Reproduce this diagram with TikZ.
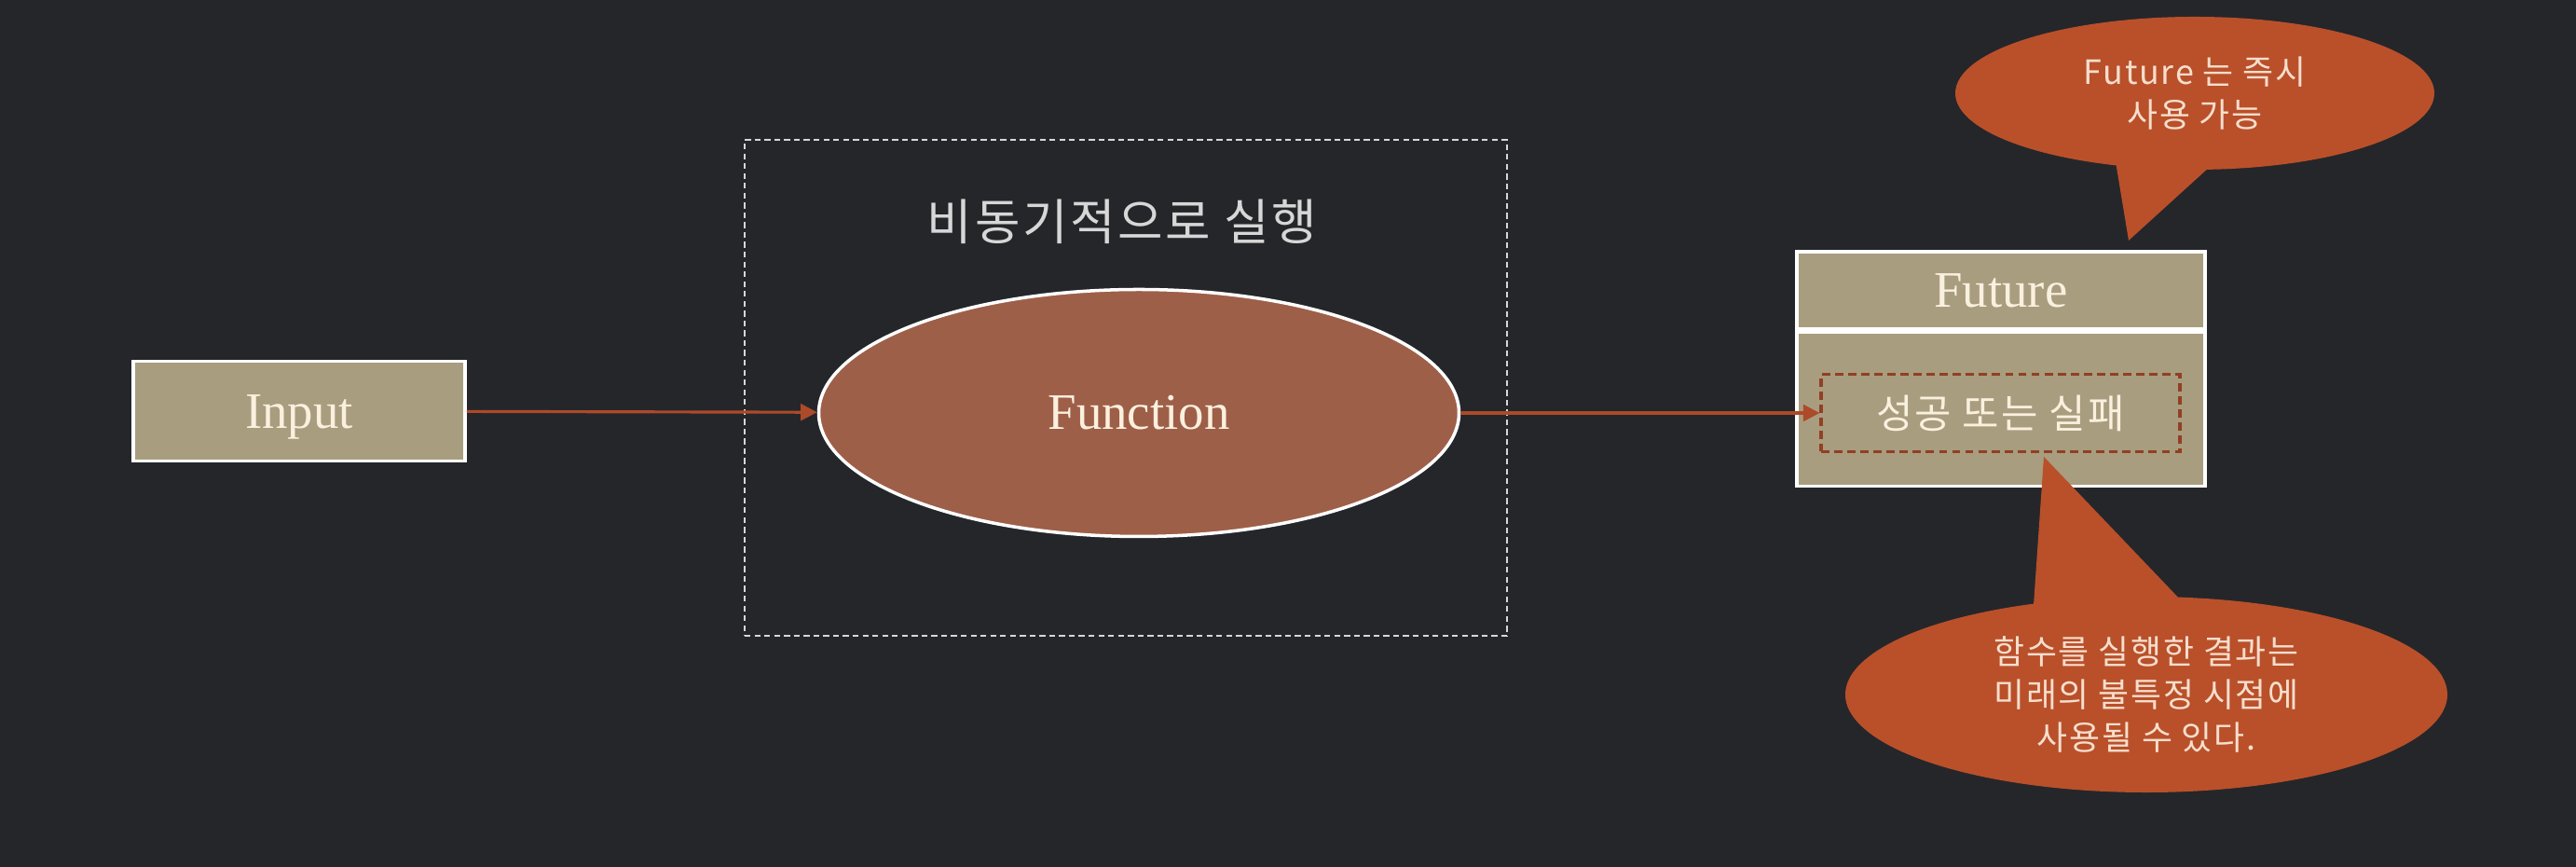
\documentclass[tikz,border=0pt]{standalone}
\usepackage{fontspec}
\setmainfont{Liberation Serif}
\newfontfamily\kofont{Noto Sans CJK KR}
\newfontfamily\kowide[LetterSpace=5]{Noto Sans CJK KR}
\usetikzlibrary{positioning,shapes.geometric,shapes.callouts,arrows.meta}

\definecolor{slate}{RGB}{37,38,42}
\definecolor{sand}{RGB}{168,157,127}
\definecolor{clay}{RGB}{158,95,73}
\definecolor{rust}{RGB}{185,80,42}
\definecolor{wire}{RGB}{172,74,42}
\definecolor{cream}{RGB}{250,240,222}
\definecolor{mist}{RGB}{215,215,215}
\definecolor{blush}{RGB}{246,222,205}

\tikzset{
  sandbox/.style={draw=white, line width=1pt, fill=sand, text=cream, inner sep=0pt,
    text height=1.05em, text depth=0pt, font=\fontsize{15.6}{18}\selectfont},
  flow/.style={draw=wire, line width=0.9pt, -{Triangle[length=5pt,width=5pt]}},
  bubble/.style={ellipse callout, fill=rust, text=blush, align=center, inner sep=0pt,
    font=\kowide\fontsize{10.2}{13.1}\selectfont},
}

\begin{document}
\begin{tikzpicture}
    % Background
    \fill[slate] (0,0) rectangle (27.64,9.30);

    % Input
    \node[sandbox, minimum width=3.56cm, minimum height=1.07cm] (input) at (3.21,4.89) {Input};

    % Async region
    \node[draw=mist, line width=0.6pt, dash pattern=on 1.8pt off 1.2pt,
          minimum width=8.18cm, minimum height=5.32cm] (async) at (12.08,5.14) {};
    \node[text=mist, font=\kowide\fontsize{15}{18}\selectfont] (asynclabel) at (12.04,6.92) {비동기적으로 실행};

    % Function
    \node[ellipse, draw=white, line width=1pt, fill=clay, text=cream, inner sep=0pt,
          minimum width=6.87cm, minimum height=2.65cm,
          font=\fontsize{15.6}{18}\selectfont] (func) at (12.22,4.87) {Function};

    % Future box
    \node[sandbox, minimum width=4.38cm, minimum height=0.83cm] (futhead) at (21.47,6.185) {Future};
    \node[sandbox, minimum width=4.38cm, minimum height=1.65cm, below=0pt of futhead] (futbody) {};
    \node[draw=wire!85!black, line width=0.9pt, dash pattern=on 2.5pt off 1.5pt, text=cream,
          minimum width=3.85cm, minimum height=0.83cm,
          font=\kowide\fontsize{12.2}{14}\selectfont] (outcome) at (21.465,4.87) {성공 또는 실패};

    % Connectors
    \draw[flow] (input) -- (func);
    \draw[flow] (func) -- (outcome);

    % Callouts
    \coordinate (toptip) at (22.84,6.72);
    \node[bubble, minimum width=5.14cm, minimum height=1.64cm,
          callout absolute pointer={(toptip)}, callout pointer arc=22] (nowbubble) at (23.55,8.30)
          {Future 는 즉시\\사용 가능};

    \coordinate (lowtip) at (21.93,4.40);
    \node[bubble, minimum width=6.46cm, minimum height=2.10cm,
          callout absolute pointer={(lowtip)}, callout pointer arc=28] (laterbubble) at (23.03,1.85)
          {함수를 실행한 결과는\\미래의 불특정 시점에\\사용될 수 있다.};
\end{tikzpicture}
\end{document}
